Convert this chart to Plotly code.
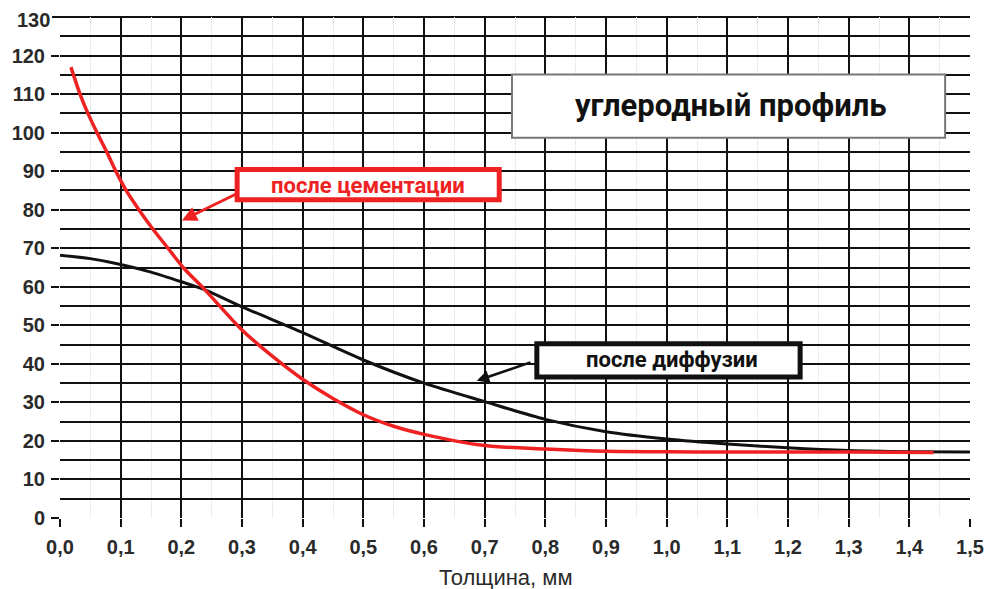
import plotly.graph_objects as go

# Data
red_x = [0.018, 0.033, 0.046, 0.061, 0.077, 0.092, 0.109, 0.13, 0.153, 0.178, 0.203, 0.239, 0.3, 0.35, 0.4, 0.45, 0.5, 0.55, 0.6, 0.7, 0.8, 0.9, 1.0, 1.1, 1.2, 1.3, 1.44]
red_y = [117, 110, 105, 100, 95, 90, 85, 80, 75, 70, 65, 59.2, 48.8, 42, 36, 31, 26.8, 23.8, 21.7, 18.8, 17.9, 17.3, 17.2, 17.1, 17.1, 17.1, 17.0]

black_x = [0.0, 0.05, 0.1, 0.15, 0.2, 0.239, 0.3, 0.4, 0.5, 0.6, 0.7, 0.8, 0.9, 1.0, 1.1, 1.2, 1.3, 1.4, 1.5]
black_y = [68.2, 67.3, 65.8, 63.8, 61.3, 59.2, 54.8, 48.1, 41, 35, 30.2, 25.6, 22.4, 20.5, 19.2, 18.2, 17.5, 17.2, 17.1]

y_ticks = [0, 10, 20, 30, 40, 50, 60, 70, 80, 90, 100, 110, 120]
y_top_label = "130"

title_text = "углеродный профиль"
red_label = "после цементации"
black_label = "после диффузии"
x_title = "Толщина, мм"

fig = go.Figure()
fig.add_trace(go.Scatter(x=black_x, y=black_y, mode="lines",
                         line=dict(color="#111111", width=3, shape="spline", smoothing=0.8), showlegend=False))
fig.add_trace(go.Scatter(x=red_x, y=red_y, mode="lines",
                         line=dict(color="#ee2222", width=3.5, shape="spline", smoothing=0.8), showlegend=False))

font_bold = "Liberation Sans Narrow, Arial Narrow, Roboto, Arial, sans-serif"
tick_font = dict(family="Liberation Sans, Arial, sans-serif", size=20, color="#2a2a2a", weight="bold")

fig.update_layout(
    width=985, height=581,
    margin=dict(l=52, r=23, t=9, b=71),
    paper_bgcolor="white", plot_bgcolor="white",
    separators=",.",
    xaxis=dict(
        range=[0, 1.5], dtick=0.1, tick0=0, tickformat=".1f",
        showgrid=True, gridcolor="#111111", gridwidth=2,
        minor=dict(dtick=0.05, showgrid=True, gridcolor="#ececec", gridwidth=1),
        ticks="outside", ticklen=8, tickwidth=2, tickcolor="#111111",
        showline=False, zeroline=False, automargin=False,
        tickfont=tick_font, ticklabelstandoff=3,
    ),
    yaxis=dict(
        range=[0, 130], tickmode="array", tickvals=y_ticks,
        showgrid=True, gridcolor="#111111", gridwidth=2,
        minor=dict(dtick=5, showgrid=True, gridcolor="#111111", gridwidth=2),
        ticks="outside", ticklen=8, tickwidth=2, tickcolor="#111111",
        showline=False, zeroline=False, automargin=False,
        tickfont=tick_font, ticklabelstandoff=2,
    ),
)

# Top gridline and its label
fig.add_shape(type="line", xref="paper", yref="paper", x0=0, x1=1, y0=1, y1=1,
              line=dict(color="#111111", width=2), layer="below")
fig.add_shape(type="line", xref="paper", yref="paper", x0=-0.0088, x1=0, y0=1, y1=1,
              line=dict(color="#111111", width=2))
fig.add_annotation(x=0, y=130, xref="paper", yref="y", xanchor="right", yanchor="top", xshift=-9, yshift=9,
                   borderpad=0, text="<b>" + y_top_label + "</b>", showarrow=False, font=tick_font)

# X axis title
fig.add_annotation(x=0.49, y=0, xref="paper", yref="paper", yshift=-59, yanchor="middle",
                   text=x_title, showarrow=False,
                   font=dict(family="Liberation Sans, Arial, sans-serif", size=22, color="#2a2a2a"))

# Title box
fig.add_shape(type="rect", xref="x", yref="y", x0=0.745, x1=1.459, y0=98.7, y1=115.1,
              fillcolor="white", line=dict(color="#777777", width=2), layer="above")
fig.add_annotation(x=1.106, y=107, xref="x", yref="y", text="<b>" + title_text + "</b>", showarrow=False,
                   font=dict(family=font_bold, size=31, color="#111111"))

# Red label box
fig.add_shape(type="rect", xref="x", yref="y", x0=0.292, x1=0.724, y0=82.6, y1=90.4,
              fillcolor="white", line=dict(color="#ee2222", width=5), layer="above")
fig.add_annotation(x=0.508, y=86.4, xref="x", yref="y", text="<b>" + red_label + "</b>", showarrow=False,
                   font=dict(family=font_bold, size=22, color="#ee2222"))
fig.add_annotation(x=0.201, y=77.2, ax=0.292, ay=84.2, xref="x", yref="y", axref="x", ayref="y",
                   text="", showarrow=True, arrowhead=2, arrowsize=1, arrowwidth=3, arrowcolor="#ee2222")

# Black label box
fig.add_shape(type="rect", xref="x", yref="y", x0=0.786, x1=1.22, y0=36.6, y1=45.2,
              fillcolor="white", line=dict(color="#111111", width=5), layer="above")
fig.add_annotation(x=1.009, y=41, xref="x", yref="y", text="<b>" + black_label + "</b>", showarrow=False,
                   font=dict(family=font_bold, size=22, color="#111111"))
fig.add_annotation(x=0.687, y=35.6, ax=0.778, ay=40.5, xref="x", yref="y", axref="x", ayref="y",
                   text="", showarrow=True, arrowhead=2, arrowsize=1, arrowwidth=2.5, arrowcolor="#111111")

fig.write_html("out.html")
